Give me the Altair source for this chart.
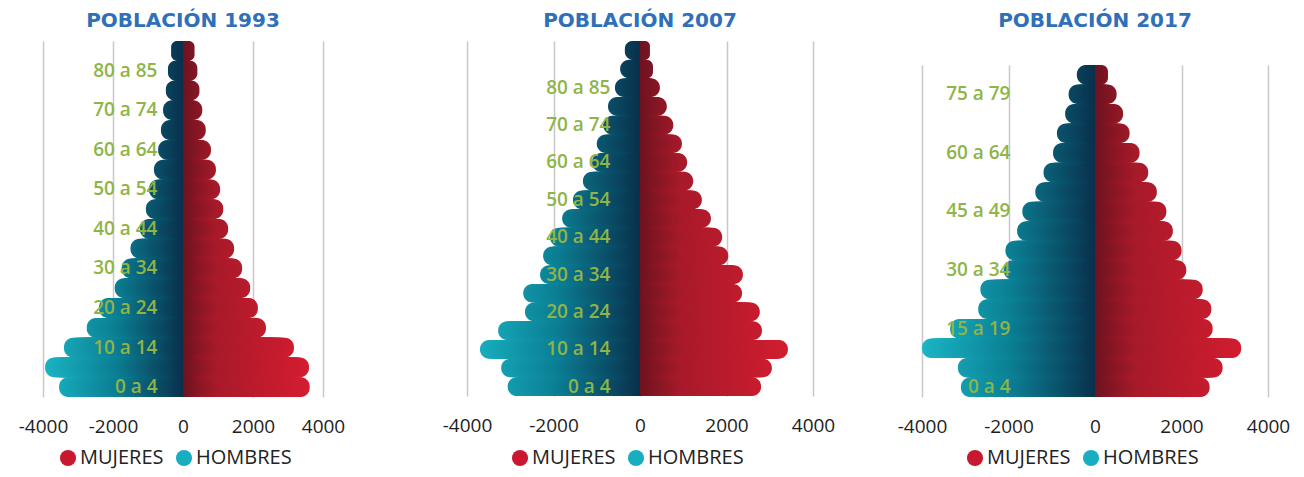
import altair as alt
import pandas as pd

# ---------------- data ----------------
groups_1993 = ["0 a 4", "5 a 9", "10 a 14", "15 a 19", "20 a 24", "25 a 29", "30 a 34",
               "35 a 39", "40 a 44", "45 a 49", "50 a 54", "55 a 59", "60 a 64", "65 a 69",
               "70 a 74", "75 a 79", "80 a 85", "85 y más"]
hombres_1993 = [3540, 3940, 3400, 2750, 2400, 1950, 1750, 1500, 1230, 1060, 970, 830, 710,
                630, 570, 490, 430, 340]
mujeres_1993 = [3620, 3600, 3170, 2370, 2140, 1920, 1690, 1460, 1290, 1150, 1060, 940, 800,
                650, 550, 470, 410, 330]
labels_1993 = ["0 a 4", "10 a 14", "20 a 24", "30 a 34", "40 a 44", "50 a 54", "60 a 64",
               "70 a 74", "80 a 85"]

groups_2007 = ["0 a 4", "5 a 9", "10 a 14", "15 a 19", "20 a 24", "25 a 29", "30 a 34",
               "35 a 39", "40 a 44", "45 a 49", "50 a 54", "55 a 59", "60 a 64", "65 a 69",
               "70 a 74", "75 a 79", "80 a 85", "85 a 89", "90 y más"]
hombres_2007 = [3060, 3210, 3700, 3280, 2660, 2700, 2310, 2240, 2080, 1800, 1550, 1320, 1110,
                1000, 850, 740, 580, 460, 350]
mujeres_2007 = [2800, 3050, 3420, 2820, 2770, 2360, 2380, 2040, 1900, 1640, 1430, 1230, 1090,
                970, 770, 620, 460, 300, 230]
labels_2007 = ["0 a 4", "10 a 14", "20 a 24", "30 a 34", "40 a 44", "50 a 54", "60 a 64",
               "70 a 74", "80 a 85"]

groups_2017 = ["0 a 4", "5 a 9", "10 a 14", "15 a 19", "20 a 24", "25 a 29", "30 a 34",
               "35 a 39", "40 a 44", "45 a 49", "50 a 54", "55 a 59", "60 a 64", "65 a 69",
               "70 a 74", "75 a 79", "80 y más"]
hombres_2017 = [3100, 3170, 4000, 3350, 2700, 2650, 2110, 2070, 1800, 1680, 1380, 1190, 970,
                880, 690, 610, 420]
mujeres_2017 = [2650, 2950, 3380, 2720, 2690, 2490, 2110, 2000, 1800, 1650, 1430, 1230, 1030,
                800, 650, 500, 300]
labels_2017 = ["0 a 4", "15 a 19", "30 a 34", "45 a 49", "60 a 64", "75 a 79"]

sexos = ["MUJERES", "HOMBRES"]
sexo_colors = ["#c8182f", "#19aebf"]
tick_values = [-4000, -2000, 0, 2000, 4000]

grad_domain = [-4000, -2000, -1, 1, 1000, 4000]
grad_range = ["#1ab4c3", "#0b7f94", "#0a2f4b", "#6c1320", "#a81a2a", "#da1e31"]

STEP = 50
R = 9


def nested(groups, values, sign):
    """Nested bars (longest first) so the fill follows a horizontal gradient."""
    rows = []
    for g, v in zip(groups, values):
        e = v
        while e > 0:
            rows.append({"grupo": g, "e": sign * e, "a": e})
            e -= STEP
    df = pd.DataFrame(rows)
    return df.sort_values("a", ascending=False, kind="stable").reset_index(drop=True)


def make_title(year):
    return alt.TitleParams(f"POBLACIÓN {year}", font="DejaVu Sans", fontSize=20,
                           fontWeight="bold", color="#2f70b9", anchor="middle",
                           frame="group", offset=10)


def panel(groups, hombres, mujeres, labels, width, height, label_inset,
          legend_x, legend_y):
    ydom = list(reversed(groups))
    yenc = alt.Y("grupo:N", sort=ydom,
                 scale=alt.Scale(domain=ydom, paddingInner=0, paddingOuter=0),
                 axis=alt.Axis(values=labels, orient="left", offset=-label_inset,
                               domain=False, ticks=False, tickSize=0, labelPadding=0,
                               labelAlign="right", labelBaseline="middle",
                               labelFont="Open Sans", labelFontSize=19,
                               labelFontWeight=600, labelColor="#8fb447",
                               labelOverlap=False, grid=False, zindex=1, title=None))
    xenc = alt.X("e:Q", stack=None,
                 scale=alt.Scale(domain=[-4000, 4000], nice=False),
                 axis=alt.Axis(values=tick_values, labelExpr="'' + datum.value",
                               grid=True, gridColor="#c8c8c8", gridWidth=1.5,
                               domain=False, ticks=False, tickSize=0, labelPadding=20,
                               labelFont="Open Sans", labelFontSize=19, labelColor="#1e1e1e",
                               labelFlush=False, labelOverlap=False, title=None, zindex=0))
    fill = alt.Fill("e:Q", scale=alt.Scale(domain=grad_domain, range=grad_range,
                                           interpolate="rgb"), legend=None)
    bars_h = alt.Chart(nested(groups, hombres, -1)).mark_bar(
        cornerRadiusTopLeft=R, cornerRadiusBottomLeft=R, strokeWidth=0
    ).encode(x=xenc, y=yenc, fill=fill)
    bars_m = alt.Chart(nested(groups, mujeres, 1)).mark_bar(
        cornerRadiusTopRight=R, cornerRadiusBottomRight=R, strokeWidth=0
    ).encode(x=xenc, y=yenc, fill=fill)
    leg = alt.Chart(pd.DataFrame({"sexo": sexos})).mark_point(
        filled=True, opacity=0, size=1
    ).encode(
        x=alt.value(1), y=alt.value(1),
        color=alt.Color("sexo:N", scale=alt.Scale(domain=sexos, range=sexo_colors),
                        legend=alt.Legend(orient="none", legendX=legend_x, legendY=legend_y,
                                          direction="horizontal", title=None,
                                          symbolType="circle", symbolSize=260,
                                          symbolOpacity=1, symbolStrokeWidth=0,
                                          labelFont="Open Sans", labelFontSize=20,
                                          labelColor="#222222", labelOffset=2,
                                          columnPadding=10, padding=0))
    )
    return alt.layer(bars_h, bars_m, leg).properties(width=width, height=height)


p1 = panel(groups_1993, hombres_1993, mujeres_1993, labels_1993, 280, 356, 114, 15, 407) \
    .properties(title=make_title(1993))
p2 = panel(groups_2007, hombres_2007, mujeres_2007, labels_2007, 346, 355, 143, 43, 407) \
    .properties(title=make_title(2007))
p3_body = panel(groups_2017, hombres_2017, mujeres_2017, labels_2017, 346, 332, 88, 43, 383)

# empty band above the 2017 pyramid (its plot area starts lower in the original)
spacer = alt.Chart(pd.DataFrame({"a": [0]})).mark_point(opacity=0, size=1).encode(
    x=alt.value(1), y=alt.value(12)
).properties(width=346, height=24, title=make_title(2017))

p3 = alt.vconcat(spacer, p3_body, spacing=0, bounds="flush").resolve_scale(
    color="independent", fill="independent").resolve_legend(color="independent")

inner = alt.hconcat(p1, p2, spacing=97).resolve_scale(
    color="independent", fill="independent").resolve_legend(color="independent")
chart = alt.hconcat(inner, p3, spacing=62).resolve_scale(
    color="independent", fill="independent").resolve_legend(color="independent")
chart = chart.properties(padding={"left": 10, "top": 2, "right": 0, "bottom": 2}) \
    .configure_view(stroke=None)

chart.save("out.html", embed_options={"renderer": "svg", "actions": False})
